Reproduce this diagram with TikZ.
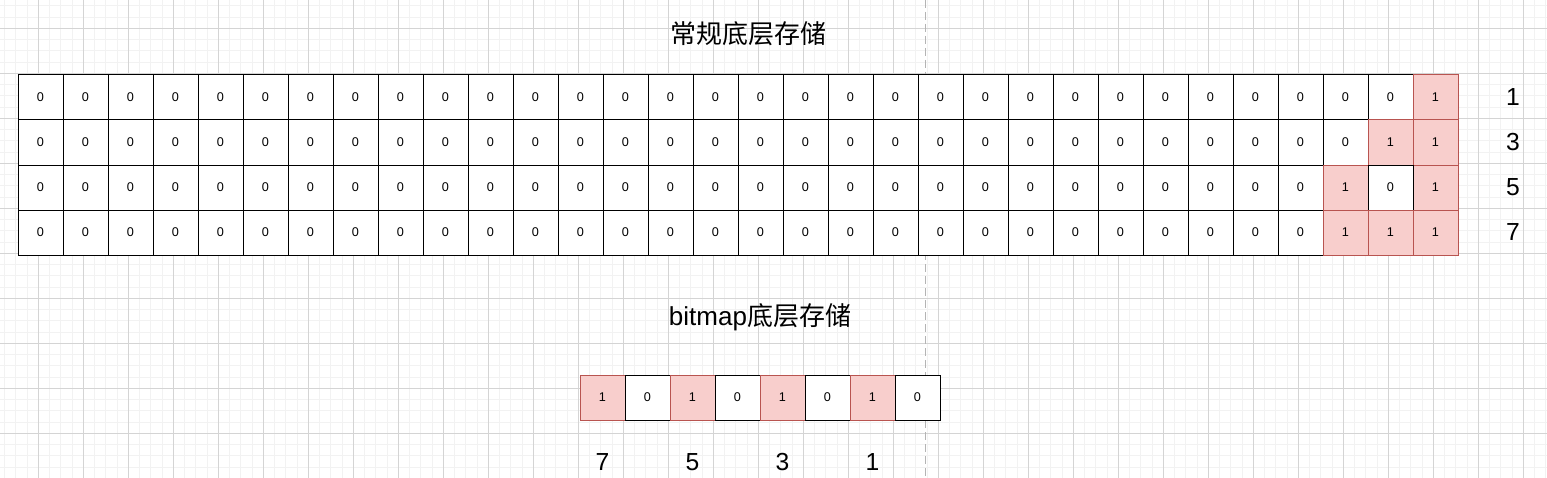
\documentclass[tikz,border=0pt]{standalone}
\usepackage{fontspec}
\setmainfont{Liberation Sans}
\newfontfamily\cjk{Noto Sans CJK SC}
\definecolor{hotfill}{HTML}{F8CECC}
\definecolor{hotline}{HTML}{B85450}
\definecolor{minorg}{HTML}{F2F2F2}
\definecolor{majorg}{HTML}{D4D4D4}
\definecolor{dashg}{HTML}{B4B4B4}
\begin{document}
\begin{tikzpicture}[x=0.75pt,y=-0.75pt,
  cell/.style={draw=black, fill=white, line width=0.75pt, minimum width=33.75pt, minimum height=33.75pt, inner sep=0pt, font=\fontsize{9.5}{11}\selectfont},
  hot/.style={cell, draw=hotline, fill=hotfill},
  lbl/.style={font=\fontsize{18.5}{21}\selectfont, inner sep=0pt},
  ttl/.style={font=\fontsize{19.5}{24}\selectfont, inner sep=0pt}]
\fill[white] (0,0) rectangle (1547,478);
\useasboundingbox (0,0) rectangle (1547,478);
% background grid
\foreach \k in {0,...,137} \draw[minorg, line width=0.75pt] ({4.55+11.25*\k},0) -- ({4.55+11.25*\k},478);
\foreach \k in {0,...,42} \draw[minorg, line width=0.75pt] (0,{5.8+11.25*\k}) -- (1547,{5.8+11.25*\k});
\foreach \k in {0,...,34} \draw[majorg, line width=0.5pt] ({38.3+45*\k},0) -- ({38.3+45*\k},478);
\foreach \k in {0,...,10} \draw[majorg, line width=0.5pt] (0,{28.3+45*\k}) -- (1547,{28.3+45*\k});
% dashed divider
\coordinate (dtop) at (925,0);
\coordinate (dbot) at (925,478);
\draw[dashg, line width=0.75pt, dash pattern=on 6pt off 3pt] (dtop) -- (dbot);
% titles
\node[ttl] (t1) at (748,34) {\cjk 常规底层存储};
\node[ttl] (t2) at (760,317) {bitmap\cjk 底层存储};
% regular storage grid
\foreach \r in {1,...,4} {
  \foreach \c in {1,...,29} {
    \node[cell] (c\r-\c) at ({45*\c-4.5},{45*\r+52.5}) {0};
  }
}
% row 1
\node[cell] (c1-30) at ({45*30-4.5},97.5) {0};
\node[cell] (c1-31) at ({45*31-4.5},97.5) {0};
\node[hot]  (c1-32) at ({45*32-4.5},97.5) {1};
% row 2
\node[cell] (c2-30) at ({45*30-4.5},142.5) {0};
\node[hot]  (c2-31) at ({45*31-4.5},142.5) {1};
\node[hot]  (c2-32) at ({45*32-4.5},142.5) {1};
% row 3
\node[hot]  (c3-30) at ({45*30-4.5},187.5) {1};
\node[hot]  (c3-32) at ({45*32-4.5},187.5) {1};
\node[cell] (c3-31) at ({45*31-4.5},187.5) {0};
% row 4
\node[hot]  (c4-30) at ({45*30-4.5},232.5) {1};
\node[hot]  (c4-31) at ({45*31-4.5},232.5) {1};
\node[hot]  (c4-32) at ({45*32-4.5},232.5) {1};
% row values
\node[lbl] (v1) at (1513,97.5) {1};
\node[lbl] (v3) at (1513,142.5) {3};
\node[lbl] (v5) at (1513,187.5) {5};
\node[lbl] (v7) at (1513,232.5) {7};
% bitmap storage
\node[hot]  (b1) at ({557.5+45*1},397.5) {1};
\node[cell] (b2) at ({557.5+45*2},397.5) {0};
\node[hot]  (b3) at ({557.5+45*3},397.5) {1};
\node[cell] (b4) at ({557.5+45*4},397.5) {0};
\node[hot]  (b5) at ({557.5+45*5},397.5) {1};
\node[cell] (b6) at ({557.5+45*6},397.5) {0};
\node[hot]  (b7) at ({557.5+45*7},397.5) {1};
\node[cell] (b8) at ({557.5+45*8},397.5) {0};
% bit values
\node[lbl] (p7) at (b1 |- 0,462) {7};
\node[lbl] (p5) at (b3 |- 0,462) {5};
\node[lbl] (p3) at (b5 |- 0,462) {3};
\node[lbl] (p1) at (b7 |- 0,462) {1};
\end{tikzpicture}
\end{document}
